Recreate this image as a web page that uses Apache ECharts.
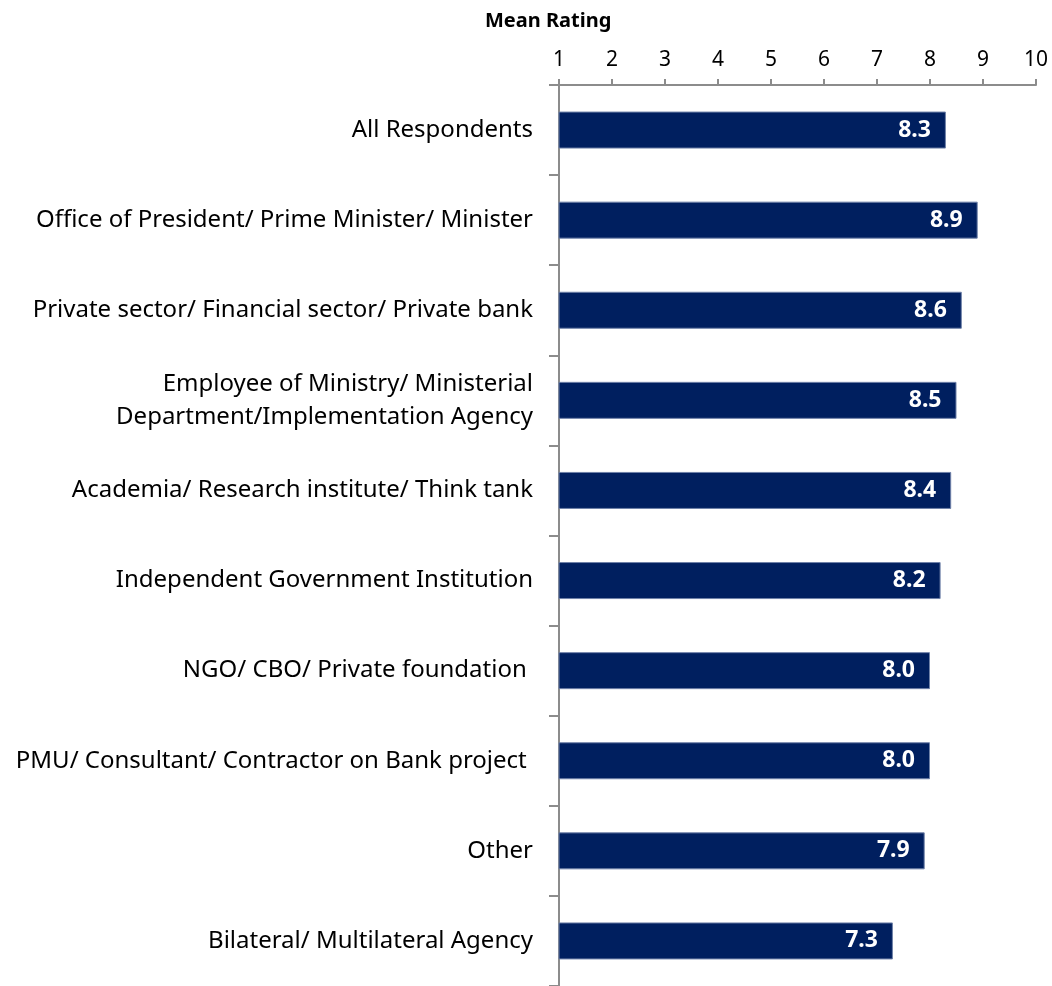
<!DOCTYPE html>
<html>
<head>
<meta charset="utf-8">
<script src="https://cdn.jsdelivr.net/npm/echarts@6/dist/echarts.min.js"></script>
<style>
  html, body { margin: 0; padding: 0; background: #fff; }
  #chart { width: 1052px; height: 986px; }
</style>
</head>
<body>
<div id="chart"></div>
<script>
// respondent groups, top to bottom
const categories = [
  'All Respondents',
  'Office of President/ Prime Minister/ Minister',
  'Private sector/ Financial sector/ Private bank',
  'Employee of Ministry/ Ministerial\nDepartment/Implementation Agency',
  'Academia/ Research institute/ Think tank',
  'Independent Government Institution',
  'NGO/ CBO/ Private foundation ',
  'PMU/ Consultant/ Contractor on Bank project ',
  'Other',
  'Bilateral/ Multilateral Agency'
]
const meanRatings = [8.3, 8.9, 8.6, 8.5, 8.4, 8.2, 8.0, 8.0, 7.9, 7.3]
const axisMin = 1
const axisMax = 10

const font = '"Noto Sans", "Open Sans", sans-serif'
const axisGray = '#8c8c8c'

const chart = echarts.init(document.getElementById('chart'))

chart.setOption({
  backgroundColor: '#fff',
  animation: false,
  title: {
    text: 'Mean Rating',
    left: 480,
    top: 6,
    textStyle: { fontFamily: font, fontSize: 20, fontWeight: 'bold', color: '#000' }
  },
  grid: { left: 559, right: 16, top: 85, bottom: -5 },
  xAxis: {
    type: 'value',
    position: 'top',
    min: axisMin,
    max: axisMax,
    interval: 1,
    axisLine: { show: true, lineStyle: { color: axisGray, width: 2 } },
    axisTick: { show: true, length: 6, lineStyle: { color: axisGray, width: 2 } },
    axisLabel: { margin: 14, fontFamily: font, fontSize: 21, color: '#000' },
    splitLine: { show: false }
  },
  yAxis: {
    type: 'category',
    inverse: true,
    data: categories,
    axisLine: { show: true, lineStyle: { color: axisGray, width: 2 } },
    axisTick: { show: true, length: 10, lineStyle: { color: axisGray, width: 2 } },
    axisLabel: {
      margin: 26,
      fontFamily: font,
      fontSize: 24,
      lineHeight: 33,
      color: '#000',
      align: 'right'
    }
  },
  series: [{
    type: 'bar',
    data: meanRatings,
    barWidth: 37,
    itemStyle: { color: '#001f5f', borderColor: '#6f81a8', borderWidth: 1 },
    label: {
      show: true,
      position: 'insideRight',
      distance: 15,
      fontFamily: font,
      fontSize: 23,
      fontWeight: 'bold',
      color: '#fff',
      formatter: p => p.value.toFixed(1)
    }
  }]
})
</script>
</body>
</html>
